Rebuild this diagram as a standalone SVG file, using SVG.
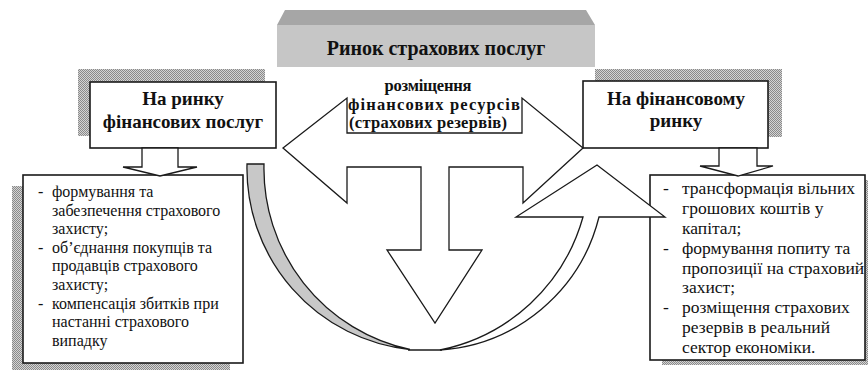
<svg xmlns="http://www.w3.org/2000/svg" width="868" height="370" viewBox="0 0 868 370">
<defs>
<pattern id="stip" width="2" height="2" patternUnits="userSpaceOnUse">
<rect width="2" height="2" fill="#d4d4d4"/>
<rect width="1" height="1" fill="#8a8a8a"/>
<rect x="1" y="1" width="1" height="1" fill="#8a8a8a"/>
</pattern>
</defs>
<style>
.shadow{fill:url(#stip);stroke:none}
.box{fill:#fff;stroke:#1a1a1a;stroke-width:1.6}
.shape{fill:#fff;stroke:#1a1a1a;stroke-width:1.3;stroke-linejoin:miter}
</style>
<rect width="868" height="370" fill="#fff"/>

<g id="banner">
<polygon points="277,25 285,10 586,10 595,25" fill="#a6a6a6"/>
<rect x="277" y="25" width="318" height="42" fill="#c6c6c6"/>
<text x="436" y="55" font-family="Liberation Serif, Times New Roman, serif" font-weight="bold" font-size="20" fill="#111" text-anchor="middle">Ринок страхових послуг</text>
</g>

<g id="left-box">
<rect class="shadow" x="78" y="69" width="187" height="67"/>
<rect class="box" x="90" y="82" width="186" height="66"/>
<text x="183" y="105" font-family="Liberation Serif, Times New Roman, serif" font-weight="bold" font-size="19" fill="#111" text-anchor="middle">На ринку</text>
<text x="183" y="128" font-family="Liberation Serif, Times New Roman, serif" font-weight="bold" font-size="19" fill="#111" text-anchor="middle">фінансових послуг</text>
</g>

<g id="right-box">
<rect class="shadow" x="595" y="69" width="187" height="68"/>
<rect class="box" x="583" y="81" width="185" height="67"/>
<text x="676" y="105" font-family="Liberation Serif, Times New Roman, serif" font-weight="bold" font-size="19" fill="#111" text-anchor="middle">На фінансовому</text>
<text x="676" y="127" font-family="Liberation Serif, Times New Roman, serif" font-weight="bold" font-size="19" fill="#111" text-anchor="middle">ринку</text>
</g>

<g id="left-list">
<rect class="shadow" x="12" y="186" width="218" height="184"/>
<rect class="box" x="23" y="175" width="220" height="188"/>
<text font-family="Liberation Serif, Times New Roman, serif" font-size="16" fill="#111">
<tspan x="38" y="197">-</tspan><tspan x="52" y="197">формування та</tspan>
<tspan x="52" y="216">забезпечення страхового</tspan>
<tspan x="52" y="234">захисту;</tspan>
<tspan x="38" y="253">-</tspan><tspan x="52" y="253">об’єднання покупців та</tspan>
<tspan x="52" y="271">продавців страхового</tspan>
<tspan x="52" y="290">захисту;</tspan>
<tspan x="38" y="309">-</tspan><tspan x="52" y="309">компенсація збитків при</tspan>
<tspan x="52" y="327">настанні страхового</tspan>
<tspan x="52" y="346">випадку</tspan>
</text>
</g>

<g id="right-list">
<rect class="shadow" x="662" y="180" width="215" height="185"/>
<rect class="box" x="650" y="175" width="215" height="185"/>
<text font-family="Liberation Serif, Times New Roman, serif" font-size="17.5" fill="#111">
<tspan x="663" y="194">-</tspan><tspan x="682" y="194">трансформація вільних</tspan>
<tspan x="682" y="214">грошових коштів у</tspan>
<tspan x="682" y="234">капітал;</tspan>
<tspan x="663" y="254">-</tspan><tspan x="682" y="254">формування попиту та</tspan>
<tspan x="682" y="274">пропозиції на страховий</tspan>
<tspan x="682" y="293">захист;</tspan>
<tspan x="663" y="313">-</tspan><tspan x="682" y="313">розміщення страхових</tspan>
<tspan x="682" y="333">резервів в реальний</tspan>
<tspan x="682" y="353">сектор економіки.</tspan>
</text>
</g>

<g id="connectors">
<polygon class="shape" points="142,148 178,148 178,167 197,167 160,176 123,167 142,167"/>
<polygon class="shape" points="719,148 757,148 757,166 773,166 738,176 700,166 719,166"/>
<polygon class="shape" points="283,148 347,98 347,133 522,133 522,98 583,148 523,203 523,167 449,167 449,250 482,250 435,323 387,250 421,250 421,167 347,167 347,203"/>
<path class="shape" style="fill:#c8c8c8" d="M247,164 L264,164 A185,185 0 0 0 410,349.5 A182,182 0 0 1 247,164 Z"/>
<line x1="408" y1="350" x2="442" y2="350" stroke="#1a1a1a" stroke-width="1.3"/>
<path class="shape" d="M440,350 A176,176 0 0 0 599,217 L665,217 L597,165 L516,217 L583,217 A187,187 0 0 1 440,350 Z"/>
</g>

<g id="center-label">
<text x="428" y="91" font-family="Liberation Serif, Times New Roman, serif" font-weight="bold" font-size="16.5" fill="#111" text-anchor="middle" textLength="87">розміщення</text>
<text x="434" y="110" font-family="Liberation Serif, Times New Roman, serif" font-weight="bold" font-size="16.5" fill="#111" text-anchor="middle" textLength="172">фінансових ресурсів</text>
<text x="428" y="128" font-family="Liberation Serif, Times New Roman, serif" font-weight="bold" font-size="16.5" fill="#111" text-anchor="middle" textLength="158">(страхових резервів)</text>
</g>
</svg>
